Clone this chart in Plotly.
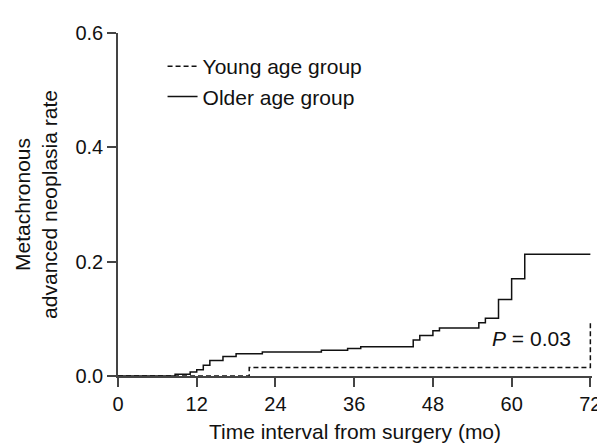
import plotly.graph_objects as go

# Data (cumulative incidence step curves)
older_t = [0, 8.7, 11, 12, 13, 14, 16, 18, 22, 31, 35, 37, 45, 46, 48, 49, 55, 56, 58, 60, 62, 72]
older_y = [0, 0.003, 0.007, 0.011, 0.019, 0.027, 0.034, 0.039, 0.042, 0.045, 0.048, 0.051,
           0.063, 0.071, 0.079, 0.084, 0.093, 0.101, 0.134, 0.170, 0.213, 0.213]
young_t = [0, 20, 72, 72]
young_y = [0, 0.015, 0.015, 0.093]

x_ticks = [0, 12, 24, 36, 48, 60, 72]
y_ticks = [0.0, 0.2, 0.4, 0.6]
y_tick_labels = ["0.0", "0.2", "0.4", "0.6"]

FONT = "Liberation Sans, Arial, Helvetica, sans-serif"
AXC = "#444444"
FS = 20     # tick labels
FT = 21     # titles, legend, annotation

fig = go.Figure()
fig.add_trace(go.Scatter(x=young_t, y=young_y, mode="lines", line_shape="hv",
                         name="Young age group",
                         line=dict(color="#111111", width=1.5, dash="5px,3px")))
fig.add_trace(go.Scatter(x=older_t, y=older_y, mode="lines", line_shape="hv",
                         name="Older age group",
                         line=dict(color="#111111", width=1.5)))

fig.add_annotation(x=63.0, y=0.066, xref="x", yref="y",
                   text="<i>P</i> = 0.03", showarrow=False,
                   font=dict(family=FONT, size=FT, color="#111111"))

fig.update_layout(
    width=605, height=444,
    margin=dict(l=110, r=15, t=25, b=66),
    paper_bgcolor="white", plot_bgcolor="white",
    font=dict(family=FONT, size=FS, color="#111111"),
    showlegend=True,
    legend=dict(x=0.094, y=0.962, xanchor="left", yanchor="top",
                bgcolor="rgba(0,0,0,0)", font=dict(size=FT),
                tracegroupgap=0, itemwidth=30),
    xaxis=dict(range=[0, 72.25], tickvals=x_ticks, ticktext=[str(v) for v in x_ticks],
               tickfont=dict(size=FS),
               showline=True, linecolor=AXC, linewidth=1.5,
               ticks="outside", ticklen=9, tickwidth=1.5, tickcolor=AXC,
               showgrid=False, zeroline=False,
               title=dict(text="Time interval from surgery (mo)", standoff=11,
                          font=dict(size=FT))),
    yaxis=dict(range=[0, 0.6], tickvals=y_ticks, ticktext=y_tick_labels,
               tickfont=dict(size=FS),
               showline=True, linecolor=AXC, linewidth=1.5,
               ticks="outside", ticklen=9, tickwidth=1.5, tickcolor=AXC,
               showgrid=False, zeroline=False,
               title=dict(text="Metachronous<br>advanced neoplasia rate", standoff=12,
                          font=dict(size=FT))),
)

fig.write_html("out.html")
